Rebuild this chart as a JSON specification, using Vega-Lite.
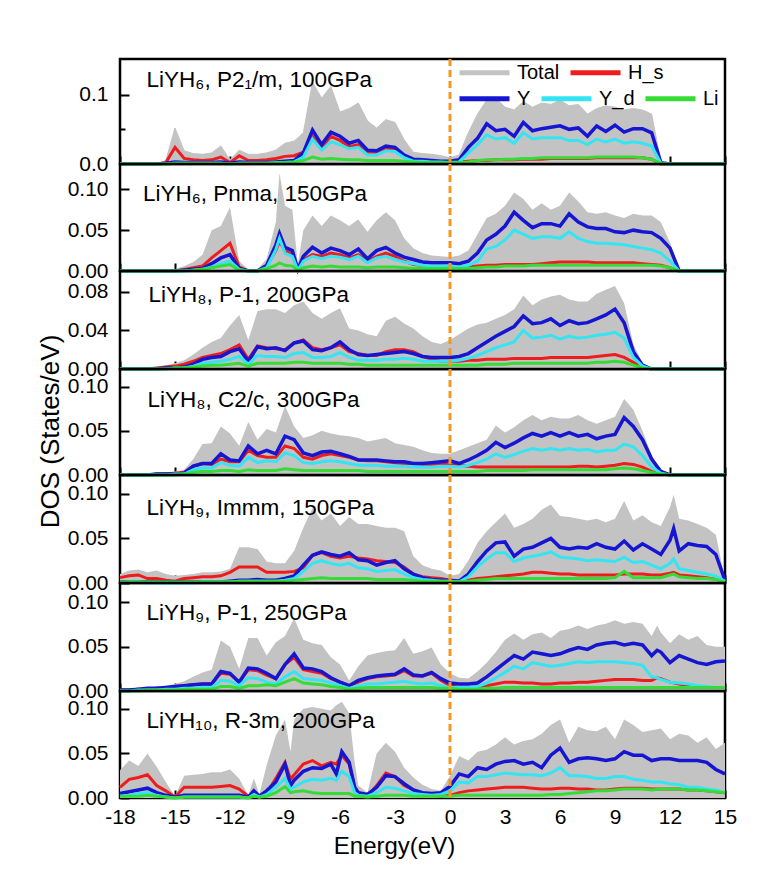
{
"$schema": "https://vega.github.io/schema/vega-lite/v6.json",
"padding": {"left": 35, "top": 43, "right": 5, "bottom": 5},
"background": "white",
"config": {
  "view": {"stroke": "black", "strokeWidth": 2.5},
  "font": "Liberation Sans",
  "axis": {"domain": false, "grid": false, "labelFont": "Liberation Sans", "labelFontSize": 21, "labelColor": "black", "tickColor": "black", "tickWidth": 2, "titleFont": "Liberation Sans", "titleFontWeight": "normal", "titleColor": "black", "labelOverlap": false, "labelFlush": false, "labelBound": false, "zindex": 1},
  "legend": {"labelFont": "Liberation Sans", "labelFontSize": 20, "labelColor": "black", "padding": 0, "symbolType": "stroke", "symbolSize": 2500, "symbolStrokeWidth": 5, "labelOffset": 5, "columnPadding": 0, "rowPadding": 0}
},
"datasets": {
"p1": [
{"e":-18,"T":0,"H":0,"Y":0,"D":0,"L":0},
{"e":-16,"T":0,"H":0,"Y":0,"D":0,"L":0},
{"e":-15.5,"T":0.005,"H":0.002,"Y":0.001,"D":0,"L":0},
{"e":-15,"T":0.052,"H":0.024,"Y":0.003,"D":0.001,"L":0.001},
{"e":-14.5,"T":0.019,"H":0.008,"Y":0.002,"D":0.001,"L":0.001},
{"e":-14,"T":0.015,"H":0.006,"Y":0.002,"D":0.001,"L":0.001},
{"e":-13.5,"T":0.014,"H":0.005,"Y":0.002,"D":0.001,"L":0.001},
{"e":-13,"T":0.016,"H":0.006,"Y":0.002,"D":0.001,"L":0.001},
{"e":-12.5,"T":0.026,"H":0.010,"Y":0.003,"D":0.001,"L":0.001},
{"e":-12,"T":0.006,"H":0.002,"Y":0.001,"D":0,"L":0},
{"e":-11.5,"T":0.020,"H":0.012,"Y":0.003,"D":0.001,"L":0.001},
{"e":-11,"T":0.014,"H":0.005,"Y":0.002,"D":0.001,"L":0.001},
{"e":-10.5,"T":0.014,"H":0.005,"Y":0.002,"D":0.001,"L":0.001},
{"e":-10,"T":0.016,"H":0.006,"Y":0.002,"D":0.001,"L":0.001},
{"e":-9.5,"T":0.020,"H":0.008,"Y":0.003,"D":0.001,"L":0.002},
{"e":-9,"T":0.030,"H":0.011,"Y":0.004,"D":0.002,"L":0.002},
{"e":-8.5,"T":0.033,"H":0.012,"Y":0.005,"D":0.003,"L":0.003},
{"e":-8,"T":0.045,"H":0.017,"Y":0.016,"D":0.010,"L":0.005},
{"e":-7.5,"T":0.118,"H":0.040,"Y":0.049,"D":0.036,"L":0.010},
{"e":-7,"T":0.095,"H":0.024,"Y":0.028,"D":0.020,"L":0.007},
{"e":-6.5,"T":0.112,"H":0.040,"Y":0.046,"D":0.032,"L":0.008},
{"e":-6,"T":0.075,"H":0.034,"Y":0.040,"D":0.028,"L":0.007},
{"e":-5.5,"T":0.080,"H":0.025,"Y":0.030,"D":0.022,"L":0.006},
{"e":-5,"T":0.088,"H":0.028,"Y":0.034,"D":0.024,"L":0.006},
{"e":-4.5,"T":0.062,"H":0.017,"Y":0.020,"D":0.013,"L":0.005},
{"e":-4,"T":0.052,"H":0.017,"Y":0.019,"D":0.013,"L":0.005},
{"e":-3.5,"T":0.064,"H":0.022,"Y":0.026,"D":0.019,"L":0.005},
{"e":-3,"T":0.060,"H":0.020,"Y":0.024,"D":0.018,"L":0.005},
{"e":-2.5,"T":0.035,"H":0.010,"Y":0.013,"D":0.009,"L":0.004},
{"e":-2,"T":0.017,"H":0.005,"Y":0.007,"D":0.004,"L":0.003},
{"e":-1.5,"T":0.015,"H":0.004,"Y":0.006,"D":0.004,"L":0.002},
{"e":-1,"T":0.014,"H":0.004,"Y":0.005,"D":0.003,"L":0.002},
{"e":-0.5,"T":0.012,"H":0.003,"Y":0.004,"D":0.003,"L":0.002},
{"e":0,"T":0.009,"H":0.003,"Y":0.004,"D":0.002,"L":0.002},
{"e":0.5,"T":0.013,"H":0.003,"Y":0.006,"D":0.003,"L":0.002},
{"e":1,"T":0.045,"H":0.004,"Y":0.024,"D":0.016,"L":0.003},
{"e":1.5,"T":0.072,"H":0.005,"Y":0.037,"D":0.028,"L":0.005},
{"e":2,"T":0.092,"H":0.005,"Y":0.058,"D":0.042,"L":0.006},
{"e":2.5,"T":0.095,"H":0.006,"Y":0.048,"D":0.036,"L":0.006},
{"e":3,"T":0.082,"H":0.006,"Y":0.050,"D":0.038,"L":0.007},
{"e":3.5,"T":0.078,"H":0.006,"Y":0.040,"D":0.030,"L":0.007},
{"e":4,"T":0.090,"H":0.007,"Y":0.060,"D":0.045,"L":0.008},
{"e":4.5,"T":0.082,"H":0.007,"Y":0.048,"D":0.036,"L":0.008},
{"e":5,"T":0.088,"H":0.007,"Y":0.051,"D":0.038,"L":0.009},
{"e":5.5,"T":0.086,"H":0.008,"Y":0.053,"D":0.038,"L":0.009},
{"e":6,"T":0.092,"H":0.008,"Y":0.055,"D":0.038,"L":0.009},
{"e":6.5,"T":0.084,"H":0.008,"Y":0.050,"D":0.034,"L":0.009},
{"e":7,"T":0.086,"H":0.008,"Y":0.052,"D":0.034,"L":0.009},
{"e":7.5,"T":0.072,"H":0.008,"Y":0.040,"D":0.028,"L":0.009},
{"e":8,"T":0.080,"H":0.009,"Y":0.055,"D":0.036,"L":0.010},
{"e":8.5,"T":0.084,"H":0.009,"Y":0.047,"D":0.032,"L":0.010},
{"e":9,"T":0.082,"H":0.009,"Y":0.056,"D":0.036,"L":0.010},
{"e":9.5,"T":0.078,"H":0.009,"Y":0.046,"D":0.030,"L":0.010},
{"e":10,"T":0.080,"H":0.009,"Y":0.051,"D":0.032,"L":0.010},
{"e":10.5,"T":0.078,"H":0.009,"Y":0.051,"D":0.030,"L":0.009},
{"e":11,"T":0.072,"H":0.007,"Y":0.045,"D":0.026,"L":0.007},
{"e":11.5,"T":0.003,"H":0,"Y":0.002,"D":0.001,"L":0.001},
{"e":12,"T":0,"H":0,"Y":0,"D":0,"L":0},
{"e":15,"T":0,"H":0,"Y":0,"D":0,"L":0}
],
"p2": [
{"e":-18,"T":0,"H":0,"Y":0,"D":0,"L":0},
{"e":-15.5,"T":0,"H":0,"Y":0,"D":0,"L":0},
{"e":-15,"T":0.002,"H":0,"Y":0,"D":0,"L":0},
{"e":-14.5,"T":0.006,"H":0.002,"Y":0.001,"D":0,"L":0},
{"e":-14,"T":0.011,"H":0.004,"Y":0.002,"D":0.001,"L":0.001},
{"e":-13.5,"T":0.020,"H":0.006,"Y":0.003,"D":0.002,"L":0.002},
{"e":-13,"T":0.050,"H":0.016,"Y":0.009,"D":0.005,"L":0.004},
{"e":-12.5,"T":0.055,"H":0.025,"Y":0.016,"D":0.009,"L":0.006},
{"e":-12,"T":0.078,"H":0.034,"Y":0.020,"D":0.012,"L":0.008},
{"e":-11.5,"T":0.012,"H":0.005,"Y":0.003,"D":0.002,"L":0.001},
{"e":-11,"T":0.002,"H":0,"Y":0,"D":0,"L":0},
{"e":-10.5,"T":0.002,"H":0,"Y":0,"D":0,"L":0},
{"e":-10,"T":0.015,"H":0.006,"Y":0.007,"D":0.004,"L":0.003},
{"e":-9.5,"T":0.060,"H":0.025,"Y":0.032,"D":0.026,"L":0.007},
{"e":-9.3,"T":0.120,"H":0.036,"Y":0.046,"D":0.040,"L":0.010},
{"e":-9,"T":0.080,"H":0.025,"Y":0.029,"D":0.022,"L":0.007},
{"e":-8.6,"T":0.075,"H":0.020,"Y":0.025,"D":0.018,"L":0.006},
{"e":-8.3,"T":0.008,"H":0.002,"Y":0.002,"D":0.001,"L":0.001},
{"e":-8,"T":0.050,"H":0.014,"Y":0.018,"D":0.012,"L":0.004},
{"e":-7.5,"T":0.068,"H":0.020,"Y":0.029,"D":0.018,"L":0.006},
{"e":-7,"T":0.055,"H":0.018,"Y":0.022,"D":0.015,"L":0.005},
{"e":-6.5,"T":0.068,"H":0.022,"Y":0.028,"D":0.018,"L":0.006},
{"e":-6,"T":0.062,"H":0.020,"Y":0.025,"D":0.017,"L":0.005},
{"e":-5.5,"T":0.055,"H":0.016,"Y":0.020,"D":0.014,"L":0.005},
{"e":-5,"T":0.063,"H":0.020,"Y":0.027,"D":0.018,"L":0.005},
{"e":-4.5,"T":0.048,"H":0.012,"Y":0.015,"D":0.010,"L":0.004},
{"e":-4,"T":0.062,"H":0.018,"Y":0.025,"D":0.016,"L":0.005},
{"e":-3.5,"T":0.072,"H":0.022,"Y":0.029,"D":0.018,"L":0.005},
{"e":-3,"T":0.062,"H":0.018,"Y":0.022,"D":0.014,"L":0.005},
{"e":-2.5,"T":0.040,"H":0.012,"Y":0.017,"D":0.011,"L":0.004},
{"e":-2,"T":0.028,"H":0.008,"Y":0.014,"D":0.009,"L":0.003},
{"e":-1.5,"T":0.022,"H":0.007,"Y":0.011,"D":0.007,"L":0.003},
{"e":-1,"T":0.019,"H":0.006,"Y":0.010,"D":0.006,"L":0.003},
{"e":-0.5,"T":0.018,"H":0.006,"Y":0.010,"D":0.006,"L":0.003},
{"e":0,"T":0.017,"H":0.005,"Y":0.010,"D":0.006,"L":0.003},
{"e":0.5,"T":0.019,"H":0.005,"Y":0.009,"D":0.005,"L":0.003},
{"e":1,"T":0.025,"H":0.005,"Y":0.012,"D":0.007,"L":0.003},
{"e":1.5,"T":0.045,"H":0.006,"Y":0.022,"D":0.012,"L":0.004},
{"e":2,"T":0.065,"H":0.007,"Y":0.038,"D":0.027,"L":0.005},
{"e":2.5,"T":0.070,"H":0.007,"Y":0.045,"D":0.030,"L":0.005},
{"e":3,"T":0.080,"H":0.008,"Y":0.055,"D":0.038,"L":0.006},
{"e":3.5,"T":0.096,"H":0.008,"Y":0.072,"D":0.050,"L":0.006},
{"e":4,"T":0.088,"H":0.008,"Y":0.062,"D":0.045,"L":0.006},
{"e":4.5,"T":0.075,"H":0.008,"Y":0.053,"D":0.040,"L":0.007},
{"e":5,"T":0.083,"H":0.009,"Y":0.058,"D":0.042,"L":0.007},
{"e":5.5,"T":0.075,"H":0.010,"Y":0.058,"D":0.042,"L":0.007},
{"e":6,"T":0.080,"H":0.011,"Y":0.055,"D":0.040,"L":0.007},
{"e":6.5,"T":0.096,"H":0.011,"Y":0.070,"D":0.048,"L":0.007},
{"e":7,"T":0.085,"H":0.011,"Y":0.060,"D":0.040,"L":0.007},
{"e":7.5,"T":0.072,"H":0.011,"Y":0.054,"D":0.036,"L":0.007},
{"e":8,"T":0.070,"H":0.010,"Y":0.052,"D":0.034,"L":0.007},
{"e":8.5,"T":0.072,"H":0.010,"Y":0.052,"D":0.034,"L":0.007},
{"e":9,"T":0.068,"H":0.010,"Y":0.048,"D":0.033,"L":0.007},
{"e":9.5,"T":0.065,"H":0.010,"Y":0.047,"D":0.032,"L":0.007},
{"e":10,"T":0.070,"H":0.010,"Y":0.050,"D":0.030,"L":0.007},
{"e":10.5,"T":0.068,"H":0.009,"Y":0.048,"D":0.028,"L":0.007},
{"e":11,"T":0.068,"H":0.008,"Y":0.047,"D":0.026,"L":0.007},
{"e":11.5,"T":0.060,"H":0.007,"Y":0.040,"D":0.022,"L":0.006},
{"e":12,"T":0.035,"H":0.004,"Y":0.028,"D":0.012,"L":0.004},
{"e":12.5,"T":0,"H":0,"Y":0,"D":0,"L":0},
{"e":15,"T":0,"H":0,"Y":0,"D":0,"L":0}
],
"p3": [
{"e":-18,"T":0,"H":0,"Y":0,"D":0,"L":0},
{"e":-17,"T":0,"H":0,"Y":0,"D":0,"L":0},
{"e":-16.5,"T":0.001,"H":0,"Y":0,"D":0,"L":0},
{"e":-16,"T":0.002,"H":0.001,"Y":0,"D":0,"L":0},
{"e":-15.5,"T":0.004,"H":0.002,"Y":0.001,"D":0,"L":0},
{"e":-15,"T":0.006,"H":0.003,"Y":0.001,"D":0.001,"L":0.001},
{"e":-14.5,"T":0.009,"H":0.005,"Y":0.002,"D":0.001,"L":0.001},
{"e":-14,"T":0.015,"H":0.008,"Y":0.005,"D":0.003,"L":0.002},
{"e":-13.5,"T":0.022,"H":0.012,"Y":0.010,"D":0.006,"L":0.003},
{"e":-13,"T":0.028,"H":0.014,"Y":0.012,"D":0.007,"L":0.004},
{"e":-12.5,"T":0.032,"H":0.016,"Y":0.013,"D":0.008,"L":0.004},
{"e":-12,"T":0.045,"H":0.020,"Y":0.018,"D":0.010,"L":0.005},
{"e":-11.5,"T":0.056,"H":0.025,"Y":0.021,"D":0.013,"L":0.006},
{"e":-11,"T":0.030,"H":0.010,"Y":0.008,"D":0.005,"L":0.003},
{"e":-10.5,"T":0.060,"H":0.024,"Y":0.023,"D":0.014,"L":0.006},
{"e":-10,"T":0.062,"H":0.022,"Y":0.021,"D":0.013,"L":0.006},
{"e":-9.5,"T":0.062,"H":0.021,"Y":0.022,"D":0.013,"L":0.006},
{"e":-9,"T":0.058,"H":0.020,"Y":0.019,"D":0.012,"L":0.006},
{"e":-8.5,"T":0.066,"H":0.027,"Y":0.027,"D":0.016,"L":0.007},
{"e":-8,"T":0.070,"H":0.030,"Y":0.029,"D":0.017,"L":0.007},
{"e":-7.5,"T":0.058,"H":0.022,"Y":0.020,"D":0.012,"L":0.006},
{"e":-7,"T":0.052,"H":0.020,"Y":0.019,"D":0.012,"L":0.006},
{"e":-6.5,"T":0.058,"H":0.022,"Y":0.022,"D":0.013,"L":0.006},
{"e":-6,"T":0.063,"H":0.025,"Y":0.028,"D":0.017,"L":0.006},
{"e":-5.5,"T":0.042,"H":0.018,"Y":0.020,"D":0.012,"L":0.005},
{"e":-5,"T":0.040,"H":0.016,"Y":0.015,"D":0.009,"L":0.005},
{"e":-4.5,"T":0.036,"H":0.014,"Y":0.014,"D":0.009,"L":0.004},
{"e":-4,"T":0.034,"H":0.014,"Y":0.015,"D":0.009,"L":0.004},
{"e":-3.5,"T":0.050,"H":0.018,"Y":0.016,"D":0.010,"L":0.004},
{"e":-3,"T":0.054,"H":0.020,"Y":0.017,"D":0.010,"L":0.004},
{"e":-2.5,"T":0.047,"H":0.020,"Y":0.018,"D":0.011,"L":0.004},
{"e":-2,"T":0.042,"H":0.018,"Y":0.016,"D":0.010,"L":0.004},
{"e":-1.5,"T":0.034,"H":0.013,"Y":0.013,"D":0.008,"L":0.004},
{"e":-1,"T":0.028,"H":0.010,"Y":0.012,"D":0.008,"L":0.004},
{"e":-0.5,"T":0.026,"H":0.008,"Y":0.012,"D":0.008,"L":0.004},
{"e":0,"T":0.030,"H":0.008,"Y":0.012,"D":0.008,"L":0.004},
{"e":0.5,"T":0.036,"H":0.008,"Y":0.013,"D":0.009,"L":0.004},
{"e":1,"T":0.042,"H":0.009,"Y":0.016,"D":0.011,"L":0.004},
{"e":1.5,"T":0.046,"H":0.009,"Y":0.022,"D":0.014,"L":0.004},
{"e":2,"T":0.048,"H":0.010,"Y":0.028,"D":0.018,"L":0.005},
{"e":2.5,"T":0.052,"H":0.010,"Y":0.034,"D":0.022,"L":0.005},
{"e":3,"T":0.056,"H":0.010,"Y":0.039,"D":0.025,"L":0.005},
{"e":3.5,"T":0.062,"H":0.011,"Y":0.044,"D":0.028,"L":0.006},
{"e":4,"T":0.076,"H":0.011,"Y":0.055,"D":0.040,"L":0.006},
{"e":4.5,"T":0.066,"H":0.011,"Y":0.047,"D":0.032,"L":0.006},
{"e":5,"T":0.072,"H":0.011,"Y":0.048,"D":0.033,"L":0.006},
{"e":5.5,"T":0.075,"H":0.012,"Y":0.052,"D":0.035,"L":0.006},
{"e":6,"T":0.077,"H":0.012,"Y":0.045,"D":0.031,"L":0.006},
{"e":6.5,"T":0.072,"H":0.012,"Y":0.050,"D":0.034,"L":0.006},
{"e":7,"T":0.070,"H":0.012,"Y":0.047,"D":0.032,"L":0.006},
{"e":7.5,"T":0.070,"H":0.012,"Y":0.048,"D":0.033,"L":0.006},
{"e":8,"T":0.078,"H":0.013,"Y":0.052,"D":0.035,"L":0.007},
{"e":8.5,"T":0.082,"H":0.014,"Y":0.056,"D":0.036,"L":0.007},
{"e":9,"T":0.086,"H":0.015,"Y":0.062,"D":0.038,"L":0.008},
{"e":9.5,"T":0.068,"H":0.012,"Y":0.048,"D":0.032,"L":0.007},
{"e":10,"T":0.026,"H":0.007,"Y":0.018,"D":0.012,"L":0.004},
{"e":10.5,"T":0.006,"H":0.002,"Y":0.004,"D":0.003,"L":0.001},
{"e":11,"T":0,"H":0,"Y":0,"D":0,"L":0},
{"e":15,"T":0,"H":0,"Y":0,"D":0,"L":0}
],
"p4": [
{"e":-18,"T":0,"H":0,"Y":0,"D":0,"L":0},
{"e":-17,"T":0,"H":0,"Y":0,"D":0,"L":0},
{"e":-16.5,"T":0.001,"H":0,"Y":0,"D":0,"L":0},
{"e":-16,"T":0.002,"H":0.001,"Y":0.001,"D":0,"L":0},
{"e":-15.5,"T":0.003,"H":0.001,"Y":0.001,"D":0,"L":0},
{"e":-15,"T":0.004,"H":0.002,"Y":0.001,"D":0.001,"L":0},
{"e":-14.5,"T":0.006,"H":0.003,"Y":0.002,"D":0.001,"L":0.001},
{"e":-14,"T":0.018,"H":0.010,"Y":0.010,"D":0.006,"L":0.003},
{"e":-13.5,"T":0.035,"H":0.013,"Y":0.013,"D":0.008,"L":0.004},
{"e":-13,"T":0.036,"H":0.012,"Y":0.013,"D":0.008,"L":0.004},
{"e":-12.5,"T":0.055,"H":0.018,"Y":0.024,"D":0.014,"L":0.005},
{"e":-12,"T":0.047,"H":0.015,"Y":0.017,"D":0.011,"L":0.005},
{"e":-11.5,"T":0.033,"H":0.015,"Y":0.016,"D":0.010,"L":0.004},
{"e":-11,"T":0.060,"H":0.028,"Y":0.033,"D":0.020,"L":0.006},
{"e":-10.5,"T":0.040,"H":0.022,"Y":0.024,"D":0.014,"L":0.005},
{"e":-10,"T":0.052,"H":0.020,"Y":0.028,"D":0.016,"L":0.005},
{"e":-9.5,"T":0.048,"H":0.020,"Y":0.024,"D":0.015,"L":0.005},
{"e":-9,"T":0.078,"H":0.033,"Y":0.044,"D":0.025,"L":0.007},
{"e":-8.5,"T":0.055,"H":0.030,"Y":0.040,"D":0.022,"L":0.006},
{"e":-8,"T":0.042,"H":0.020,"Y":0.025,"D":0.014,"L":0.005},
{"e":-7.5,"T":0.045,"H":0.018,"Y":0.022,"D":0.013,"L":0.005},
{"e":-7,"T":0.050,"H":0.022,"Y":0.026,"D":0.015,"L":0.005},
{"e":-6.5,"T":0.047,"H":0.024,"Y":0.027,"D":0.016,"L":0.005},
{"e":-6,"T":0.045,"H":0.022,"Y":0.024,"D":0.015,"L":0.005},
{"e":-5.5,"T":0.044,"H":0.020,"Y":0.021,"D":0.013,"L":0.005},
{"e":-5,"T":0.042,"H":0.017,"Y":0.017,"D":0.011,"L":0.005},
{"e":-4.5,"T":0.038,"H":0.016,"Y":0.017,"D":0.011,"L":0.004},
{"e":-4,"T":0.040,"H":0.016,"Y":0.017,"D":0.011,"L":0.004},
{"e":-3.5,"T":0.042,"H":0.015,"Y":0.016,"D":0.010,"L":0.004},
{"e":-3,"T":0.036,"H":0.014,"Y":0.015,"D":0.010,"L":0.004},
{"e":-2.5,"T":0.034,"H":0.013,"Y":0.015,"D":0.010,"L":0.004},
{"e":-2,"T":0.032,"H":0.013,"Y":0.013,"D":0.009,"L":0.004},
{"e":-1.5,"T":0.028,"H":0.012,"Y":0.013,"D":0.009,"L":0.004},
{"e":-1,"T":0.025,"H":0.012,"Y":0.014,"D":0.009,"L":0.004},
{"e":-0.5,"T":0.024,"H":0.012,"Y":0.015,"D":0.010,"L":0.004},
{"e":0,"T":0.024,"H":0.012,"Y":0.016,"D":0.010,"L":0.004},
{"e":0.5,"T":0.028,"H":0.011,"Y":0.013,"D":0.009,"L":0.004},
{"e":1,"T":0.032,"H":0.010,"Y":0.017,"D":0.011,"L":0.004},
{"e":1.5,"T":0.036,"H":0.009,"Y":0.022,"D":0.014,"L":0.004},
{"e":2,"T":0.040,"H":0.009,"Y":0.028,"D":0.018,"L":0.005},
{"e":2.5,"T":0.056,"H":0.009,"Y":0.037,"D":0.024,"L":0.005},
{"e":3,"T":0.048,"H":0.009,"Y":0.031,"D":0.020,"L":0.005},
{"e":3.5,"T":0.054,"H":0.009,"Y":0.036,"D":0.023,"L":0.005},
{"e":4,"T":0.062,"H":0.009,"Y":0.042,"D":0.027,"L":0.005},
{"e":4.5,"T":0.068,"H":0.009,"Y":0.047,"D":0.030,"L":0.006},
{"e":5,"T":0.062,"H":0.009,"Y":0.044,"D":0.028,"L":0.006},
{"e":5.5,"T":0.066,"H":0.009,"Y":0.048,"D":0.030,"L":0.006},
{"e":6,"T":0.064,"H":0.009,"Y":0.044,"D":0.028,"L":0.006},
{"e":6.5,"T":0.064,"H":0.009,"Y":0.048,"D":0.030,"L":0.006},
{"e":7,"T":0.068,"H":0.010,"Y":0.044,"D":0.028,"L":0.006},
{"e":7.5,"T":0.062,"H":0.010,"Y":0.046,"D":0.029,"L":0.006},
{"e":8,"T":0.058,"H":0.009,"Y":0.041,"D":0.026,"L":0.006},
{"e":8.5,"T":0.062,"H":0.010,"Y":0.044,"D":0.028,"L":0.006},
{"e":9,"T":0.066,"H":0.011,"Y":0.046,"D":0.028,"L":0.007},
{"e":9.5,"T":0.086,"H":0.013,"Y":0.065,"D":0.035,"L":0.008},
{"e":10,"T":0.074,"H":0.012,"Y":0.055,"D":0.032,"L":0.007},
{"e":10.5,"T":0.050,"H":0.009,"Y":0.040,"D":0.022,"L":0.005},
{"e":11,"T":0.022,"H":0.004,"Y":0.018,"D":0.009,"L":0.003},
{"e":11.5,"T":0.005,"H":0.001,"Y":0.004,"D":0.002,"L":0.001},
{"e":12,"T":0,"H":0,"Y":0,"D":0,"L":0},
{"e":15,"T":0,"H":0,"Y":0,"D":0,"L":0}
],
"p5": [
{"e":-18,"T":0.010,"H":0.006,"Y":0.001,"D":0,"L":0.001},
{"e":-17.5,"T":0.014,"H":0.008,"Y":0.001,"D":0.001,"L":0.001},
{"e":-17,"T":0.015,"H":0.009,"Y":0.001,"D":0.001,"L":0.001},
{"e":-16.5,"T":0.012,"H":0.005,"Y":0.001,"D":0,"L":0.001},
{"e":-16,"T":0.014,"H":0.005,"Y":0.001,"D":0,"L":0.001},
{"e":-15.5,"T":0.010,"H":0.003,"Y":0.001,"D":0,"L":0.001},
{"e":-15,"T":0.008,"H":0.002,"Y":0.001,"D":0,"L":0.001},
{"e":-14.5,"T":0.009,"H":0.005,"Y":0.001,"D":0,"L":0.001},
{"e":-14,"T":0.010,"H":0.006,"Y":0.001,"D":0,"L":0.001},
{"e":-13.5,"T":0.012,"H":0.007,"Y":0.001,"D":0.001,"L":0.001},
{"e":-13,"T":0.012,"H":0.007,"Y":0.001,"D":0.001,"L":0.001},
{"e":-12.5,"T":0.013,"H":0.008,"Y":0.001,"D":0.001,"L":0.001},
{"e":-12,"T":0.016,"H":0.012,"Y":0.002,"D":0.001,"L":0.001},
{"e":-11.5,"T":0.040,"H":0.018,"Y":0.003,"D":0.002,"L":0.002},
{"e":-11,"T":0.040,"H":0.018,"Y":0.003,"D":0.002,"L":0.002},
{"e":-10.5,"T":0.038,"H":0.018,"Y":0.004,"D":0.002,"L":0.002},
{"e":-10,"T":0.024,"H":0.012,"Y":0.003,"D":0.002,"L":0.002},
{"e":-9.5,"T":0.022,"H":0.012,"Y":0.003,"D":0.002,"L":0.002},
{"e":-9,"T":0.022,"H":0.012,"Y":0.005,"D":0.003,"L":0.002},
{"e":-8.5,"T":0.036,"H":0.013,"Y":0.008,"D":0.005,"L":0.003},
{"e":-8,"T":0.062,"H":0.017,"Y":0.020,"D":0.013,"L":0.004},
{"e":-7.5,"T":0.084,"H":0.031,"Y":0.031,"D":0.022,"L":0.005},
{"e":-7,"T":0.070,"H":0.034,"Y":0.035,"D":0.025,"L":0.006},
{"e":-6.5,"T":0.078,"H":0.030,"Y":0.032,"D":0.022,"L":0.005},
{"e":-6,"T":0.064,"H":0.028,"Y":0.030,"D":0.020,"L":0.005},
{"e":-5.5,"T":0.074,"H":0.030,"Y":0.034,"D":0.022,"L":0.005},
{"e":-5,"T":0.066,"H":0.028,"Y":0.026,"D":0.017,"L":0.005},
{"e":-4.5,"T":0.066,"H":0.027,"Y":0.025,"D":0.016,"L":0.005},
{"e":-4,"T":0.064,"H":0.025,"Y":0.020,"D":0.013,"L":0.004},
{"e":-3.5,"T":0.062,"H":0.024,"Y":0.023,"D":0.014,"L":0.004},
{"e":-3,"T":0.062,"H":0.023,"Y":0.025,"D":0.015,"L":0.004},
{"e":-2.5,"T":0.058,"H":0.018,"Y":0.016,"D":0.010,"L":0.004},
{"e":-2,"T":0.030,"H":0.010,"Y":0.010,"D":0.006,"L":0.003},
{"e":-1.5,"T":0.020,"H":0.007,"Y":0.006,"D":0.004,"L":0.002},
{"e":-1,"T":0.016,"H":0.006,"Y":0.004,"D":0.003,"L":0.002},
{"e":-0.5,"T":0.014,"H":0.005,"Y":0.003,"D":0.002,"L":0.002},
{"e":0,"T":0.008,"H":0.003,"Y":0.003,"D":0.002,"L":0.002},
{"e":0.5,"T":0.010,"H":0.002,"Y":0.002,"D":0.001,"L":0.001},
{"e":1,"T":0.025,"H":0.003,"Y":0.010,"D":0.007,"L":0.002},
{"e":1.5,"T":0.045,"H":0.005,"Y":0.024,"D":0.018,"L":0.003},
{"e":2,"T":0.058,"H":0.006,"Y":0.036,"D":0.027,"L":0.004},
{"e":2.5,"T":0.068,"H":0.007,"Y":0.045,"D":0.034,"L":0.005},
{"e":3,"T":0.078,"H":0.008,"Y":0.046,"D":0.034,"L":0.005},
{"e":3.5,"T":0.062,"H":0.009,"Y":0.030,"D":0.024,"L":0.005},
{"e":4,"T":0.066,"H":0.010,"Y":0.038,"D":0.028,"L":0.005},
{"e":4.5,"T":0.072,"H":0.012,"Y":0.040,"D":0.030,"L":0.005},
{"e":5,"T":0.082,"H":0.012,"Y":0.045,"D":0.032,"L":0.005},
{"e":5.5,"T":0.088,"H":0.011,"Y":0.050,"D":0.035,"L":0.005},
{"e":6,"T":0.075,"H":0.010,"Y":0.040,"D":0.029,"L":0.005},
{"e":6.5,"T":0.074,"H":0.010,"Y":0.038,"D":0.028,"L":0.005},
{"e":7,"T":0.072,"H":0.009,"Y":0.040,"D":0.027,"L":0.005},
{"e":7.5,"T":0.070,"H":0.009,"Y":0.039,"D":0.025,"L":0.005},
{"e":8,"T":0.072,"H":0.009,"Y":0.044,"D":0.026,"L":0.005},
{"e":8.5,"T":0.068,"H":0.009,"Y":0.040,"D":0.025,"L":0.005},
{"e":9,"T":0.072,"H":0.009,"Y":0.038,"D":0.024,"L":0.006},
{"e":9.5,"T":0.092,"H":0.010,"Y":0.047,"D":0.029,"L":0.013},
{"e":10,"T":0.070,"H":0.010,"Y":0.037,"D":0.023,"L":0.006},
{"e":10.5,"T":0.076,"H":0.010,"Y":0.044,"D":0.024,"L":0.006},
{"e":11,"T":0.068,"H":0.009,"Y":0.038,"D":0.020,"L":0.006},
{"e":11.5,"T":0.064,"H":0.009,"Y":0.032,"D":0.016,"L":0.006},
{"e":12,"T":0.085,"H":0.011,"Y":0.048,"D":0.022,"L":0.009},
{"e":12.2,"T":0.099,"H":0.012,"Y":0.061,"D":0.027,"L":0.010},
{"e":12.5,"T":0.072,"H":0.009,"Y":0.036,"D":0.016,"L":0.007},
{"e":13,"T":0.070,"H":0.008,"Y":0.044,"D":0.014,"L":0.006},
{"e":13.5,"T":0.066,"H":0.007,"Y":0.042,"D":0.012,"L":0.005},
{"e":14,"T":0.062,"H":0.006,"Y":0.041,"D":0.010,"L":0.005},
{"e":14.5,"T":0.054,"H":0.004,"Y":0.032,"D":0.008,"L":0.004},
{"e":15,"T":0.003,"H":0.001,"Y":0.003,"D":0.002,"L":0.001}
],
"p6": [
{"e":-18,"T":0.001,"H":0.001,"Y":0.001,"D":0,"L":0},
{"e":-17.5,"T":0.002,"H":0.001,"Y":0.001,"D":0,"L":0},
{"e":-17,"T":0.003,"H":0.002,"Y":0.002,"D":0.001,"L":0},
{"e":-16.5,"T":0.004,"H":0.002,"Y":0.003,"D":0.001,"L":0.001},
{"e":-16,"T":0.005,"H":0.003,"Y":0.003,"D":0.001,"L":0.001},
{"e":-15.5,"T":0.006,"H":0.003,"Y":0.004,"D":0.002,"L":0.001},
{"e":-15,"T":0.008,"H":0.005,"Y":0.005,"D":0.002,"L":0.001},
{"e":-14.5,"T":0.011,"H":0.006,"Y":0.006,"D":0.003,"L":0.002},
{"e":-14,"T":0.016,"H":0.007,"Y":0.007,"D":0.003,"L":0.002},
{"e":-13.5,"T":0.021,"H":0.008,"Y":0.008,"D":0.004,"L":0.002},
{"e":-13,"T":0.024,"H":0.008,"Y":0.008,"D":0.004,"L":0.002},
{"e":-12.5,"T":0.057,"H":0.020,"Y":0.022,"D":0.012,"L":0.005},
{"e":-12,"T":0.050,"H":0.019,"Y":0.020,"D":0.011,"L":0.005},
{"e":-11.5,"T":0.025,"H":0.010,"Y":0.010,"D":0.006,"L":0.003},
{"e":-11,"T":0.060,"H":0.024,"Y":0.026,"D":0.015,"L":0.006},
{"e":-10.5,"T":0.060,"H":0.023,"Y":0.025,"D":0.014,"L":0.006},
{"e":-10,"T":0.040,"H":0.018,"Y":0.020,"D":0.010,"L":0.007},
{"e":-9.5,"T":0.055,"H":0.014,"Y":0.014,"D":0.008,"L":0.006},
{"e":-9,"T":0.062,"H":0.030,"Y":0.030,"D":0.016,"L":0.010},
{"e":-8.5,"T":0.082,"H":0.038,"Y":0.042,"D":0.022,"L":0.014},
{"e":-8,"T":0.058,"H":0.024,"Y":0.026,"D":0.014,"L":0.009},
{"e":-7.5,"T":0.054,"H":0.022,"Y":0.025,"D":0.013,"L":0.008},
{"e":-7,"T":0.052,"H":0.020,"Y":0.022,"D":0.012,"L":0.007},
{"e":-6.5,"T":0.038,"H":0.014,"Y":0.015,"D":0.009,"L":0.005},
{"e":-6,"T":0.030,"H":0.010,"Y":0.010,"D":0.006,"L":0.004},
{"e":-5.5,"T":0.012,"H":0.006,"Y":0.006,"D":0.003,"L":0.002},
{"e":-5,"T":0.028,"H":0.010,"Y":0.012,"D":0.006,"L":0.003},
{"e":-4.5,"T":0.040,"H":0.014,"Y":0.015,"D":0.008,"L":0.004},
{"e":-4,"T":0.043,"H":0.016,"Y":0.017,"D":0.008,"L":0.004},
{"e":-3.5,"T":0.045,"H":0.017,"Y":0.018,"D":0.009,"L":0.004},
{"e":-3,"T":0.046,"H":0.018,"Y":0.019,"D":0.010,"L":0.004},
{"e":-2.5,"T":0.060,"H":0.023,"Y":0.025,"D":0.011,"L":0.004},
{"e":-2,"T":0.042,"H":0.017,"Y":0.018,"D":0.009,"L":0.004},
{"e":-1.5,"T":0.045,"H":0.017,"Y":0.017,"D":0.008,"L":0.004},
{"e":-1,"T":0.049,"H":0.020,"Y":0.021,"D":0.009,"L":0.004},
{"e":-0.5,"T":0.030,"H":0.012,"Y":0.014,"D":0.006,"L":0.003},
{"e":0,"T":0.020,"H":0.006,"Y":0.009,"D":0.004,"L":0.003},
{"e":0.5,"T":0.015,"H":0.004,"Y":0.008,"D":0.004,"L":0.002},
{"e":1,"T":0.014,"H":0.004,"Y":0.008,"D":0.004,"L":0.002},
{"e":1.5,"T":0.022,"H":0.005,"Y":0.009,"D":0.005,"L":0.002},
{"e":2,"T":0.032,"H":0.006,"Y":0.016,"D":0.009,"L":0.003},
{"e":2.5,"T":0.044,"H":0.008,"Y":0.024,"D":0.015,"L":0.003},
{"e":3,"T":0.058,"H":0.010,"Y":0.032,"D":0.021,"L":0.004},
{"e":3.5,"T":0.065,"H":0.010,"Y":0.040,"D":0.028,"L":0.004},
{"e":4,"T":0.058,"H":0.009,"Y":0.036,"D":0.025,"L":0.004},
{"e":4.5,"T":0.064,"H":0.009,"Y":0.044,"D":0.032,"L":0.004},
{"e":5,"T":0.066,"H":0.008,"Y":0.042,"D":0.030,"L":0.004},
{"e":5.5,"T":0.060,"H":0.008,"Y":0.040,"D":0.028,"L":0.004},
{"e":6,"T":0.068,"H":0.009,"Y":0.042,"D":0.029,"L":0.004},
{"e":6.5,"T":0.070,"H":0.009,"Y":0.046,"D":0.031,"L":0.004},
{"e":7,"T":0.074,"H":0.010,"Y":0.049,"D":0.033,"L":0.004},
{"e":7.5,"T":0.070,"H":0.010,"Y":0.047,"D":0.032,"L":0.004},
{"e":8,"T":0.074,"H":0.011,"Y":0.052,"D":0.033,"L":0.004},
{"e":8.5,"T":0.076,"H":0.012,"Y":0.054,"D":0.033,"L":0.004},
{"e":9,"T":0.080,"H":0.013,"Y":0.055,"D":0.033,"L":0.004},
{"e":9.5,"T":0.076,"H":0.013,"Y":0.052,"D":0.032,"L":0.004},
{"e":10,"T":0.078,"H":0.013,"Y":0.054,"D":0.031,"L":0.004},
{"e":10.5,"T":0.076,"H":0.012,"Y":0.052,"D":0.029,"L":0.004},
{"e":11,"T":0.062,"H":0.012,"Y":0.040,"D":0.016,"L":0.004},
{"e":11.3,"T":0.074,"H":0.015,"Y":0.046,"D":0.015,"L":0.004},
{"e":11.5,"T":0.066,"H":0.014,"Y":0.044,"D":0.013,"L":0.004},
{"e":12,"T":0.054,"H":0.010,"Y":0.032,"D":0.010,"L":0.004},
{"e":12.5,"T":0.064,"H":0.008,"Y":0.040,"D":0.009,"L":0.004},
{"e":13,"T":0.058,"H":0.006,"Y":0.036,"D":0.008,"L":0.004},
{"e":13.5,"T":0.062,"H":0.005,"Y":0.032,"D":0.006,"L":0.004},
{"e":14,"T":0.052,"H":0.004,"Y":0.030,"D":0.005,"L":0.004},
{"e":14.5,"T":0.050,"H":0.004,"Y":0.033,"D":0.004,"L":0.004},
{"e":15,"T":0.050,"H":0.004,"Y":0.034,"D":0.004,"L":0.004}
],
"p7": [
{"e":-18,"T":0.031,"H":0.012,"Y":0.005,"D":0.002,"L":0.002},
{"e":-17.5,"T":0.042,"H":0.021,"Y":0.007,"D":0.003,"L":0.002},
{"e":-17,"T":0.036,"H":0.023,"Y":0.009,"D":0.005,"L":0.002},
{"e":-16.5,"T":0.050,"H":0.026,"Y":0.011,"D":0.006,"L":0.003},
{"e":-16,"T":0.035,"H":0.014,"Y":0.006,"D":0.003,"L":0.002},
{"e":-15.5,"T":0.018,"H":0.008,"Y":0.003,"D":0.001,"L":0.001},
{"e":-15,"T":0.002,"H":0.001,"Y":0.001,"D":0,"L":0},
{"e":-14.5,"T":0.025,"H":0.012,"Y":0.003,"D":0.001,"L":0.001},
{"e":-14,"T":0.026,"H":0.012,"Y":0.003,"D":0.001,"L":0.001},
{"e":-13.5,"T":0.027,"H":0.012,"Y":0.003,"D":0.001,"L":0.001},
{"e":-13,"T":0.029,"H":0.012,"Y":0.003,"D":0.001,"L":0.001},
{"e":-12.5,"T":0.029,"H":0.013,"Y":0.003,"D":0.001,"L":0.001},
{"e":-12,"T":0.032,"H":0.014,"Y":0.003,"D":0.001,"L":0.001},
{"e":-11.5,"T":0.022,"H":0.010,"Y":0.003,"D":0.001,"L":0.001},
{"e":-11,"T":0.003,"H":0.002,"Y":0.001,"D":0,"L":0},
{"e":-10.7,"T":0.022,"H":0.004,"Y":0.008,"D":0.004,"L":0.002},
{"e":-10.4,"T":0.004,"H":0.002,"Y":0.002,"D":0.001,"L":0.001},
{"e":-10,"T":0.037,"H":0.005,"Y":0.008,"D":0.004,"L":0.002},
{"e":-9.5,"T":0.070,"H":0.022,"Y":0.018,"D":0.012,"L":0.006},
{"e":-9,"T":0.088,"H":0.040,"Y":0.038,"D":0.022,"L":0.013},
{"e":-8.7,"T":0.052,"H":0.021,"Y":0.014,"D":0.010,"L":0.006},
{"e":-8.5,"T":0.088,"H":0.026,"Y":0.020,"D":0.012,"L":0.007},
{"e":-8,"T":0.100,"H":0.038,"Y":0.030,"D":0.018,"L":0.008},
{"e":-7.5,"T":0.102,"H":0.042,"Y":0.034,"D":0.021,"L":0.006},
{"e":-7,"T":0.100,"H":0.036,"Y":0.033,"D":0.020,"L":0.005},
{"e":-6.5,"T":0.098,"H":0.040,"Y":0.038,"D":0.022,"L":0.005},
{"e":-6.2,"T":0.104,"H":0.038,"Y":0.027,"D":0.020,"L":0.005},
{"e":-5.9,"T":0.108,"H":0.048,"Y":0.052,"D":0.030,"L":0.005},
{"e":-5.5,"T":0.095,"H":0.038,"Y":0.040,"D":0.024,"L":0.005},
{"e":-5.2,"T":0.040,"H":0.012,"Y":0.012,"D":0.006,"L":0.002},
{"e":-5,"T":0.014,"H":0.005,"Y":0.006,"D":0.003,"L":0.002},
{"e":-4.5,"T":0.006,"H":0.002,"Y":0.004,"D":0.002,"L":0.001},
{"e":-4,"T":0.050,"H":0.014,"Y":0.012,"D":0.006,"L":0.002},
{"e":-3.5,"T":0.062,"H":0.028,"Y":0.025,"D":0.012,"L":0.003},
{"e":-3,"T":0.052,"H":0.024,"Y":0.024,"D":0.011,"L":0.003},
{"e":-2.5,"T":0.034,"H":0.014,"Y":0.016,"D":0.008,"L":0.003},
{"e":-2,"T":0.023,"H":0.009,"Y":0.009,"D":0.005,"L":0.002},
{"e":-1.5,"T":0.015,"H":0.005,"Y":0.006,"D":0.004,"L":0.002},
{"e":-1,"T":0.010,"H":0.003,"Y":0.005,"D":0.003,"L":0.002},
{"e":-0.5,"T":0.008,"H":0.002,"Y":0.006,"D":0.004,"L":0.002},
{"e":0,"T":0.025,"H":0.003,"Y":0.013,"D":0.008,"L":0.002},
{"e":0.5,"T":0.047,"H":0.006,"Y":0.027,"D":0.018,"L":0.003},
{"e":1,"T":0.042,"H":0.008,"Y":0.024,"D":0.017,"L":0.003},
{"e":1.5,"T":0.052,"H":0.009,"Y":0.034,"D":0.024,"L":0.003},
{"e":2,"T":0.054,"H":0.010,"Y":0.032,"D":0.024,"L":0.003},
{"e":2.5,"T":0.060,"H":0.011,"Y":0.038,"D":0.026,"L":0.003},
{"e":3,"T":0.068,"H":0.012,"Y":0.041,"D":0.028,"L":0.003},
{"e":3.5,"T":0.060,"H":0.012,"Y":0.042,"D":0.027,"L":0.003},
{"e":4,"T":0.064,"H":0.012,"Y":0.038,"D":0.026,"L":0.003},
{"e":4.5,"T":0.066,"H":0.011,"Y":0.040,"D":0.026,"L":0.003},
{"e":5,"T":0.072,"H":0.010,"Y":0.034,"D":0.025,"L":0.003},
{"e":5.5,"T":0.082,"H":0.010,"Y":0.048,"D":0.028,"L":0.004},
{"e":6,"T":0.088,"H":0.011,"Y":0.056,"D":0.034,"L":0.004},
{"e":6.5,"T":0.062,"H":0.011,"Y":0.040,"D":0.025,"L":0.005},
{"e":7,"T":0.080,"H":0.010,"Y":0.044,"D":0.025,"L":0.006},
{"e":7.5,"T":0.076,"H":0.010,"Y":0.045,"D":0.024,"L":0.007},
{"e":8,"T":0.075,"H":0.009,"Y":0.044,"D":0.022,"L":0.008},
{"e":8.5,"T":0.080,"H":0.009,"Y":0.042,"D":0.022,"L":0.008},
{"e":9,"T":0.066,"H":0.010,"Y":0.044,"D":0.024,"L":0.009},
{"e":9.5,"T":0.088,"H":0.011,"Y":0.052,"D":0.024,"L":0.010},
{"e":10,"T":0.082,"H":0.011,"Y":0.048,"D":0.021,"L":0.010},
{"e":10.5,"T":0.074,"H":0.011,"Y":0.048,"D":0.020,"L":0.010},
{"e":11,"T":0.076,"H":0.010,"Y":0.042,"D":0.018,"L":0.009},
{"e":11.5,"T":0.078,"H":0.010,"Y":0.044,"D":0.018,"L":0.010},
{"e":12,"T":0.066,"H":0.010,"Y":0.044,"D":0.016,"L":0.010},
{"e":12.5,"T":0.072,"H":0.010,"Y":0.042,"D":0.015,"L":0.010},
{"e":13,"T":0.070,"H":0.009,"Y":0.042,"D":0.012,"L":0.009},
{"e":13.5,"T":0.062,"H":0.009,"Y":0.042,"D":0.012,"L":0.009},
{"e":14,"T":0.068,"H":0.008,"Y":0.040,"D":0.010,"L":0.008},
{"e":14.5,"T":0.055,"H":0.007,"Y":0.032,"D":0.009,"L":0.007},
{"e":15,"T":0.062,"H":0.006,"Y":0.027,"D":0.006,"L":0.006}
]
},
"spacing": 0,
"bounds": "flush",
"resolve": {"scale": {"x": "independent", "y": "independent", "color": "independent", "stroke": "independent"}, "legend": {"color": "independent", "stroke": "independent"}},
"vconcat": [
{
 "width": 605, "height": 105,
 "data": {"name": "p1"},
 "layer": [
  {"mark": {"type": "area", "fill": "#c3c3c3", "strokeWidth": 1},
   "encoding": {
    "x": {"field": "e", "type": "quantitative", "scale": {"domain": [-18, 15], "nice": false, "zero": false},
          "axis": {"values": [-18,-16.5,-15,-13.5,-12,-10.5,-9,-7.5,-6,-4.5,-3,-1.5,0,1.5,3,4.5,6,7.5,9,10.5,12,13.5,15], "labels": false, "title": null, "tickSize": {"condition": {"test": "datum.value % 3 != 0", "value": -4}, "value": -8}}},
    "y": {"field": "T", "type": "quantitative", "scale": {"domain": [0, 0.1515], "nice": false},
          "axis": {"values": [0, 0.05, 0.1], "title": null, "labelExpr": "datum.value == 0.05 ? '' : format(datum.value, '.1f')", "labelPadding": 21, "tickSize": {"condition": {"test": "datum.value == 0.05", "value": -5}, "value": -9}}},
    "stroke": {"datum": "Total", "scale": {"domain": ["Total", "H_s"], "range": ["#c3c3c3", "#ee1c1c"]},
               "legend": {"orient": "none", "legendX": 337, "legendY": -14, "direction": "horizontal", "title": null}}
   }},
  {"mark": {"type": "line", "strokeWidth": 3},
   "encoding": {"x": {"field": "e", "type": "quantitative"}, "y": {"field": "H", "type": "quantitative"}, "stroke": {"datum": "H_s"}}},
  {"mark": {"type": "line", "strokeWidth": 3.5},
   "encoding": {"x": {"field": "e", "type": "quantitative"}, "y": {"field": "Y", "type": "quantitative"},
    "color": {"datum": "Y", "scale": {"domain": ["Y", "Y_d", "Li"], "range": ["#1616d2", "#33e5f2", "#36dc36"]},
              "legend": {"orient": "none", "legendX": 337, "legendY": 12, "direction": "horizontal", "title": null}}}},
  {"mark": {"type": "line", "strokeWidth": 3},
   "encoding": {"x": {"field": "e", "type": "quantitative"}, "y": {"field": "D", "type": "quantitative"}, "color": {"datum": "Y_d"}}},
  {"mark": {"type": "line", "strokeWidth": 3},
   "encoding": {"x": {"field": "e", "type": "quantitative"}, "y": {"field": "L", "type": "quantitative"}, "color": {"datum": "Li"}}},
  {"data": {"values": [{"e": 0}]}, "mark": {"type": "rule", "color": "#f5961f", "strokeWidth": 3, "strokeDash": [7, 4]},
   "encoding": {"x": {"field": "e", "type": "quantitative"}}},
  {"data": {"values": [{"s": "LiYH₆, P2₁/m, 100GPa"}]}, "mark": {"type": "text", "align": "left", "baseline": "alphabetic", "fontSize": 22.5, "font": "Liberation Sans", "color": "black"},
   "encoding": {"x": {"datum": -16.55}, "y": {"datum": 0.111}, "text": {"field": "s"}}}
 ]
},
{
 "width": 605, "height": 107,
 "data": {"name": "p2"},
 "layer": [
  {"mark": {"type": "area", "color": "#c3c3c3"},
   "encoding": {
    "x": {"field": "e", "type": "quantitative", "scale": {"domain": [-18, 15], "nice": false, "zero": false},
          "axis": {"values": [-18,-16.5,-15,-13.5,-12,-10.5,-9,-7.5,-6,-4.5,-3,-1.5,0,1.5,3,4.5,6,7.5,9,10.5,12,13.5,15], "labels": false, "title": null, "tickSize": {"condition": {"test": "datum.value % 3 != 0", "value": -4}, "value": -8}}},
    "y": {"field": "T", "type": "quantitative", "scale": {"domain": [0, 0.131], "nice": false},
          "axis": {"values": [0, 0.025, 0.05, 0.075, 0.1, 0.125], "title": null, "labelExpr": "round(datum.value*1000) % 50 == 0 ? format(datum.value, '.2f') : ''", "labelPadding": 21, "tickSize": {"condition": {"test": "round(datum.value*1000) % 50 != 0", "value": -5}, "value": -9}}}
   }},
  {"mark": {"type": "line", "color": "#ee1c1c", "strokeWidth": 3}, "encoding": {"x": {"field": "e", "type": "quantitative"}, "y": {"field": "H", "type": "quantitative"}}},
  {"mark": {"type": "line", "color": "#1616d2", "strokeWidth": 3.5}, "encoding": {"x": {"field": "e", "type": "quantitative"}, "y": {"field": "Y", "type": "quantitative"}}},
  {"mark": {"type": "line", "color": "#33e5f2", "strokeWidth": 3}, "encoding": {"x": {"field": "e", "type": "quantitative"}, "y": {"field": "D", "type": "quantitative"}}},
  {"mark": {"type": "line", "color": "#36dc36", "strokeWidth": 3}, "encoding": {"x": {"field": "e", "type": "quantitative"}, "y": {"field": "L", "type": "quantitative"}}},
  {"data": {"values": [{"e": 0}]}, "mark": {"type": "rule", "color": "#f5961f", "strokeWidth": 3, "strokeDash": [7, 4]}, "encoding": {"x": {"field": "e", "type": "quantitative"}}},
  {"data": {"values": [{"s": "LiYH₆, Pnma, 150GPa"}]}, "mark": {"type": "text", "align": "left", "baseline": "alphabetic", "fontSize": 22.5, "font": "Liberation Sans", "color": "black"},
   "encoding": {"x": {"datum": -16.75}, "y": {"datum": 0.0857}, "text": {"field": "s"}}}
 ]
},
{
 "width": 605, "height": 98,
 "data": {"name": "p3"},
 "layer": [
  {"mark": {"type": "area", "color": "#c3c3c3"},
   "encoding": {
    "x": {"field": "e", "type": "quantitative", "scale": {"domain": [-18, 15], "nice": false, "zero": false},
          "axis": {"values": [-18,-16.5,-15,-13.5,-12,-10.5,-9,-7.5,-6,-4.5,-3,-1.5,0,1.5,3,4.5,6,7.5,9,10.5,12,13.5,15], "labels": false, "title": null, "tickSize": {"condition": {"test": "datum.value % 3 != 0", "value": -4}, "value": -8}}},
    "y": {"field": "T", "type": "quantitative", "scale": {"domain": [0, 0.1015], "nice": false},
          "axis": {"values": [0, 0.02, 0.04, 0.06, 0.08, 0.1], "title": null, "labelExpr": "round(datum.value*100) % 4 == 0 ? format(datum.value, '.2f') : ''", "labelPadding": 21, "tickSize": {"condition": {"test": "round(datum.value*100) % 4 != 0", "value": -5}, "value": -9}}}
   }},
  {"mark": {"type": "line", "color": "#ee1c1c", "strokeWidth": 3}, "encoding": {"x": {"field": "e", "type": "quantitative"}, "y": {"field": "H", "type": "quantitative"}}},
  {"mark": {"type": "line", "color": "#1616d2", "strokeWidth": 3.5}, "encoding": {"x": {"field": "e", "type": "quantitative"}, "y": {"field": "Y", "type": "quantitative"}}},
  {"mark": {"type": "line", "color": "#33e5f2", "strokeWidth": 3}, "encoding": {"x": {"field": "e", "type": "quantitative"}, "y": {"field": "D", "type": "quantitative"}}},
  {"mark": {"type": "line", "color": "#36dc36", "strokeWidth": 3}, "encoding": {"x": {"field": "e", "type": "quantitative"}, "y": {"field": "L", "type": "quantitative"}}},
  {"data": {"values": [{"e": 0}]}, "mark": {"type": "rule", "color": "#f5961f", "strokeWidth": 3, "strokeDash": [7, 4]}, "encoding": {"x": {"field": "e", "type": "quantitative"}}},
  {"data": {"values": [{"s": "LiYH₈, P-1, 200GPa"}]}, "mark": {"type": "text", "align": "left", "baseline": "alphabetic", "fontSize": 22.5, "font": "Liberation Sans", "color": "black"},
   "encoding": {"x": {"datum": -16.45}, "y": {"datum": 0.0694}, "text": {"field": "s"}}}
 ]
},
{
 "width": 605, "height": 106,
 "data": {"name": "p4"},
 "layer": [
  {"mark": {"type": "area", "color": "#c3c3c3"},
   "encoding": {
    "x": {"field": "e", "type": "quantitative", "scale": {"domain": [-18, 15], "nice": false, "zero": false},
          "axis": {"values": [-18,-16.5,-15,-13.5,-12,-10.5,-9,-7.5,-6,-4.5,-3,-1.5,0,1.5,3,4.5,6,7.5,9,10.5,12,13.5,15], "labels": false, "title": null, "tickSize": {"condition": {"test": "datum.value % 3 != 0", "value": -4}, "value": -8}}},
    "y": {"field": "T", "type": "quantitative", "scale": {"domain": [0, 0.12], "nice": false},
          "axis": {"values": [0, 0.025, 0.05, 0.075, 0.1], "title": "DOS (States/eV)", "titleFontSize": 26, "titleAngle": 270, "titleX": -70, "titleY": 62, "titleAlign": "center", "titleBaseline": "middle", "labelExpr": "round(datum.value*1000) % 50 == 0 ? format(datum.value, '.2f') : ''", "labelPadding": 21, "tickSize": {"condition": {"test": "round(datum.value*1000) % 50 != 0", "value": -5}, "value": -9}}}
   }},
  {"mark": {"type": "line", "color": "#ee1c1c", "strokeWidth": 3}, "encoding": {"x": {"field": "e", "type": "quantitative"}, "y": {"field": "H", "type": "quantitative"}}},
  {"mark": {"type": "line", "color": "#1616d2", "strokeWidth": 3.5}, "encoding": {"x": {"field": "e", "type": "quantitative"}, "y": {"field": "Y", "type": "quantitative"}}},
  {"mark": {"type": "line", "color": "#33e5f2", "strokeWidth": 3}, "encoding": {"x": {"field": "e", "type": "quantitative"}, "y": {"field": "D", "type": "quantitative"}}},
  {"mark": {"type": "line", "color": "#36dc36", "strokeWidth": 3}, "encoding": {"x": {"field": "e", "type": "quantitative"}, "y": {"field": "L", "type": "quantitative"}}},
  {"data": {"values": [{"e": 0}]}, "mark": {"type": "rule", "color": "#f5961f", "strokeWidth": 3, "strokeDash": [7, 4]}, "encoding": {"x": {"field": "e", "type": "quantitative"}}},
  {"data": {"values": [{"s": "LiYH₈, C2/c, 300GPa"}]}, "mark": {"type": "text", "align": "left", "baseline": "alphabetic", "fontSize": 22.5, "font": "Liberation Sans", "color": "black"},
   "encoding": {"x": {"datum": -16.5}, "y": {"datum": 0.077}, "text": {"field": "s"}}}
 ]
},
{
 "width": 605, "height": 108,
 "data": {"name": "p5"},
 "layer": [
  {"mark": {"type": "area", "color": "#c3c3c3"},
   "encoding": {
    "x": {"field": "e", "type": "quantitative", "scale": {"domain": [-18, 15], "nice": false, "zero": false},
          "axis": {"values": [-18,-16.5,-15,-13.5,-12,-10.5,-9,-7.5,-6,-4.5,-3,-1.5,0,1.5,3,4.5,6,7.5,9,10.5,12,13.5,15], "labels": false, "title": null, "tickSize": {"condition": {"test": "datum.value % 3 != 0", "value": -4}, "value": -8}}},
    "y": {"field": "T", "type": "quantitative", "scale": {"domain": [0, 0.121], "nice": false},
          "axis": {"values": [0, 0.025, 0.05, 0.075, 0.1], "title": null, "labelExpr": "round(datum.value*1000) % 50 == 0 ? format(datum.value, '.2f') : ''", "labelPadding": 21, "tickSize": {"condition": {"test": "round(datum.value*1000) % 50 != 0", "value": -5}, "value": -9}}}
   }},
  {"mark": {"type": "line", "color": "#ee1c1c", "strokeWidth": 3}, "encoding": {"x": {"field": "e", "type": "quantitative"}, "y": {"field": "H", "type": "quantitative"}}},
  {"mark": {"type": "line", "color": "#1616d2", "strokeWidth": 3.5}, "encoding": {"x": {"field": "e", "type": "quantitative"}, "y": {"field": "Y", "type": "quantitative"}}},
  {"mark": {"type": "line", "color": "#33e5f2", "strokeWidth": 3}, "encoding": {"x": {"field": "e", "type": "quantitative"}, "y": {"field": "D", "type": "quantitative"}}},
  {"mark": {"type": "line", "color": "#36dc36", "strokeWidth": 3}, "encoding": {"x": {"field": "e", "type": "quantitative"}, "y": {"field": "L", "type": "quantitative"}}},
  {"data": {"values": [{"e": 0}]}, "mark": {"type": "rule", "color": "#f5961f", "strokeWidth": 3, "strokeDash": [7, 4]}, "encoding": {"x": {"field": "e", "type": "quantitative"}}},
  {"data": {"values": [{"s": "LiYH₉, Immm, 150GPa"}]}, "mark": {"type": "text", "align": "left", "baseline": "alphabetic", "fontSize": 22.5, "font": "Liberation Sans", "color": "black"},
   "encoding": {"x": {"datum": -16.55}, "y": {"datum": 0.0762}, "text": {"field": "s"}}}
 ]
},
{
 "width": 605, "height": 108,
 "data": {"name": "p6"},
 "layer": [
  {"mark": {"type": "area", "color": "#c3c3c3"},
   "encoding": {
    "x": {"field": "e", "type": "quantitative", "scale": {"domain": [-18, 15], "nice": false, "zero": false},
          "axis": {"values": [-18,-16.5,-15,-13.5,-12,-10.5,-9,-7.5,-6,-4.5,-3,-1.5,0,1.5,3,4.5,6,7.5,9,10.5,12,13.5,15], "labels": false, "title": null, "tickSize": {"condition": {"test": "datum.value % 3 != 0", "value": -4}, "value": -8}}},
    "y": {"field": "T", "type": "quantitative", "scale": {"domain": [0, 0.122], "nice": false},
          "axis": {"values": [0, 0.025, 0.05, 0.075, 0.1], "title": null, "labelExpr": "round(datum.value*1000) % 50 == 0 ? format(datum.value, '.2f') : ''", "labelPadding": 21, "tickSize": {"condition": {"test": "round(datum.value*1000) % 50 != 0", "value": -5}, "value": -9}}}
   }},
  {"mark": {"type": "line", "color": "#ee1c1c", "strokeWidth": 3}, "encoding": {"x": {"field": "e", "type": "quantitative"}, "y": {"field": "H", "type": "quantitative"}}},
  {"mark": {"type": "line", "color": "#1616d2", "strokeWidth": 3.5}, "encoding": {"x": {"field": "e", "type": "quantitative"}, "y": {"field": "Y", "type": "quantitative"}}},
  {"mark": {"type": "line", "color": "#33e5f2", "strokeWidth": 3}, "encoding": {"x": {"field": "e", "type": "quantitative"}, "y": {"field": "D", "type": "quantitative"}}},
  {"mark": {"type": "line", "color": "#36dc36", "strokeWidth": 3}, "encoding": {"x": {"field": "e", "type": "quantitative"}, "y": {"field": "L", "type": "quantitative"}}},
  {"data": {"values": [{"e": 0}]}, "mark": {"type": "rule", "color": "#f5961f", "strokeWidth": 3, "strokeDash": [7, 4]}, "encoding": {"x": {"field": "e", "type": "quantitative"}}},
  {"data": {"values": [{"s": "LiYH₉, P-1, 250GPa"}]}, "mark": {"type": "text", "align": "left", "baseline": "alphabetic", "fontSize": 22.5, "font": "Liberation Sans", "color": "black"},
   "encoding": {"x": {"datum": -16.55}, "y": {"datum": 0.0802}, "text": {"field": "s"}}}
 ]
},
{
 "width": 605, "height": 107,
 "data": {"name": "p7"},
 "layer": [
  {"mark": {"type": "area", "color": "#c3c3c3"},
   "encoding": {
    "x": {"field": "e", "type": "quantitative", "scale": {"domain": [-18, 15], "nice": false, "zero": false},
          "axis": {"values": [-18,-16.5,-15,-13.5,-12,-10.5,-9,-7.5,-6,-4.5,-3,-1.5,0,1.5,3,4.5,6,7.5,9,10.5,12,13.5,15], "labelExpr": "datum.value % 3 == 0 ? '' + datum.value : ''", "labelPadding": 16, "title": "Energy(eV)", "titleFontSize": 24, "titleX": 274, "titleY": 36, "titleAlign": "center", "titleBaseline": "top", "tickSize": {"condition": {"test": "datum.value % 3 != 0", "value": -4}, "value": -8}}},
    "y": {"field": "T", "type": "quantitative", "scale": {"domain": [0, 0.12], "nice": false},
          "axis": {"values": [0, 0.025, 0.05, 0.075, 0.1], "title": null, "labelExpr": "round(datum.value*1000) % 50 == 0 ? format(datum.value, '.2f') : ''", "labelPadding": 21, "tickSize": {"condition": {"test": "round(datum.value*1000) % 50 != 0", "value": -5}, "value": -9}}}
   }},
  {"mark": {"type": "line", "color": "#ee1c1c", "strokeWidth": 3}, "encoding": {"x": {"field": "e", "type": "quantitative"}, "y": {"field": "H", "type": "quantitative"}}},
  {"mark": {"type": "line", "color": "#1616d2", "strokeWidth": 3.5}, "encoding": {"x": {"field": "e", "type": "quantitative"}, "y": {"field": "Y", "type": "quantitative"}}},
  {"mark": {"type": "line", "color": "#33e5f2", "strokeWidth": 3}, "encoding": {"x": {"field": "e", "type": "quantitative"}, "y": {"field": "D", "type": "quantitative"}}},
  {"mark": {"type": "line", "color": "#36dc36", "strokeWidth": 3}, "encoding": {"x": {"field": "e", "type": "quantitative"}, "y": {"field": "L", "type": "quantitative"}}},
  {"data": {"values": [{"e": 0}]}, "mark": {"type": "rule", "color": "#f5961f", "strokeWidth": 3, "strokeDash": [7, 4]}, "encoding": {"x": {"field": "e", "type": "quantitative"}}},
  {"data": {"values": [{"s": "LiYH₁₀, R-3m, 200GPa"}]}, "mark": {"type": "text", "align": "left", "baseline": "alphabetic", "fontSize": 22.5, "font": "Liberation Sans", "color": "black"},
   "encoding": {"x": {"datum": -16.55}, "y": {"datum": 0.0785}, "text": {"field": "s"}}}
 ]
}
]
}
